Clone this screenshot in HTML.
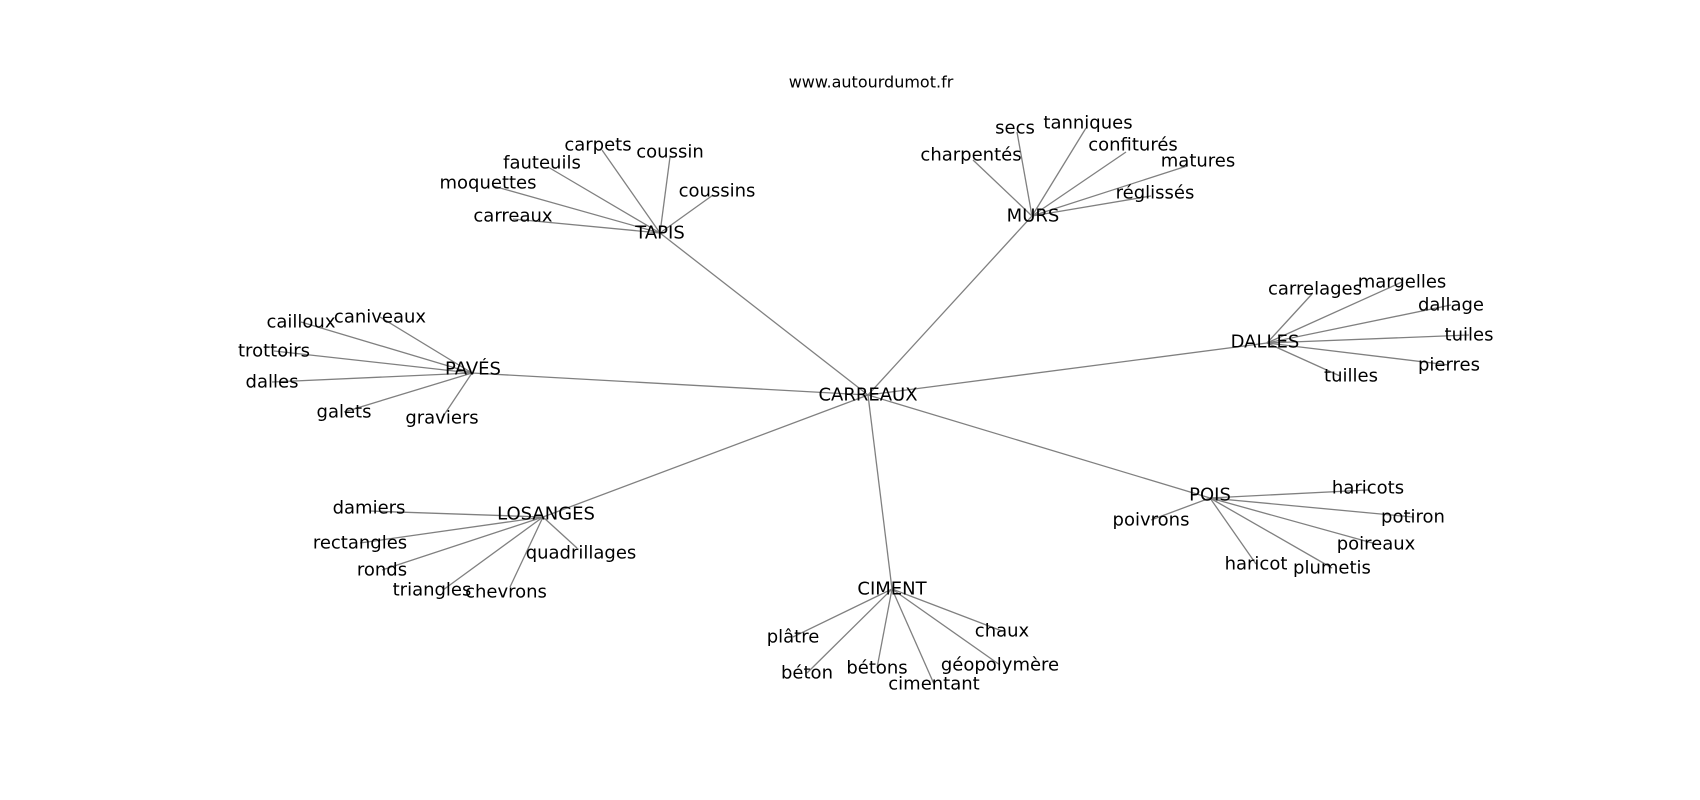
<!DOCTYPE html>
<html><head><meta charset="utf-8"><style>
html,body{margin:0;padding:0;background:#fff;}
svg{display:block;}
text{font-family:"DejaVu Sans","Liberation Sans",sans-serif;font-size:18px;fill:#000;text-anchor:middle;dominant-baseline:central;}
line{stroke:#808080;stroke-width:1.3;}
</style></head><body>
<svg width="1700" height="800" viewBox="0 0 1700 800">
<g>
<line x1="868" y1="395" x2="660" y2="233"/>
<line x1="868" y1="395" x2="1032" y2="216"/>
<line x1="868" y1="395" x2="1267" y2="343"/>
<line x1="868" y1="395" x2="472" y2="373"/>
<line x1="868" y1="395" x2="543" y2="517"/>
<line x1="868" y1="395" x2="892" y2="589"/>
<line x1="868" y1="395" x2="1210" y2="498"/>
<!-- TAPIS -->
<line x1="660" y1="233" x2="602" y2="150"/>
<line x1="660" y1="233" x2="670" y2="157"/>
<line x1="660" y1="233" x2="548" y2="167"/>
<line x1="660" y1="233" x2="493" y2="186"/>
<line x1="660" y1="233" x2="713" y2="195"/>
<line x1="660" y1="233" x2="513" y2="219"/>
<!-- MURS -->
<line x1="1032" y1="216" x2="1017" y2="132"/>
<line x1="1032" y1="216" x2="1086" y2="128"/>
<line x1="1032" y1="216" x2="973" y2="160"/>
<line x1="1032" y1="216" x2="1126" y2="152"/>
<line x1="1032" y1="216" x2="1187" y2="166"/>
<line x1="1032" y1="216" x2="1151" y2="196"/>
<!-- DALLES -->
<line x1="1267" y1="343" x2="1312" y2="294"/>
<line x1="1267" y1="343" x2="1402" y2="282"/>
<line x1="1267" y1="343" x2="1451" y2="305"/>
<line x1="1267" y1="343" x2="1469" y2="335"/>
<line x1="1267" y1="343" x2="1449" y2="365"/>
<line x1="1267" y1="343" x2="1340" y2="376"/>
<!-- PAVES -->
<line x1="472" y1="373" x2="301" y2="322"/>
<line x1="472" y1="373" x2="380" y2="317"/>
<line x1="472" y1="373" x2="274" y2="351"/>
<line x1="472" y1="373" x2="272" y2="382"/>
<line x1="472" y1="373" x2="344" y2="412"/>
<line x1="472" y1="373" x2="442" y2="418"/>
<!-- LOSANGES -->
<line x1="543" y1="517" x2="369" y2="511"/>
<line x1="543" y1="517" x2="360" y2="543"/>
<line x1="543" y1="517" x2="382" y2="570"/>
<line x1="543" y1="517" x2="443" y2="590"/>
<line x1="543" y1="517" x2="510" y2="587"/>
<line x1="543" y1="517" x2="577" y2="548"/>
<!-- CIMENT -->
<line x1="892" y1="589" x2="793" y2="637"/>
<line x1="892" y1="589" x2="807" y2="673"/>
<line x1="892" y1="589" x2="877" y2="668"/>
<line x1="892" y1="589" x2="934" y2="684"/>
<line x1="892" y1="589" x2="1000" y2="665"/>
<line x1="892" y1="589" x2="1002" y2="631"/>
<!-- POIS -->
<line x1="1210" y1="498" x2="1368" y2="490"/>
<line x1="1210" y1="498" x2="1413" y2="517"/>
<line x1="1210" y1="498" x2="1376" y2="544"/>
<line x1="1210" y1="498" x2="1332" y2="568"/>
<line x1="1210" y1="498" x2="1256" y2="564"/>
<line x1="1210" y1="498" x2="1151" y2="520"/>
</g>
<g>
<text x="871" y="82" style="font-size:16px">www.autourdumot.fr</text>
<text x="868" y="395">CARREAUX</text>
<text x="660" y="233">TAPIS</text>
<text x="598" y="145">carpets</text>
<text x="670" y="152">coussin</text>
<text x="542" y="163">fauteuils</text>
<text x="488" y="183">moquettes</text>
<text x="717" y="191">coussins</text>
<text x="513" y="216">carreaux</text>
<text x="1033" y="216">MURS</text>
<text x="1015" y="128">secs</text>
<text x="1088" y="123">tanniques</text>
<text x="971" y="155">charpentés</text>
<text x="1133" y="145">confiturés</text>
<text x="1198" y="161">matures</text>
<text x="1155" y="193">réglissés</text>
<text x="1265" y="342">DALLES</text>
<text x="1315" y="289">carrelages</text>
<text x="1402" y="282">margelles</text>
<text x="1451" y="305">dallage</text>
<text x="1469" y="335">tuiles</text>
<text x="1449" y="365">pierres</text>
<text x="1351" y="376">tuilles</text>
<text x="473" y="369">PAVÉS</text>
<text x="301" y="322">cailloux</text>
<text x="380" y="317">caniveaux</text>
<text x="274" y="351">trottoirs</text>
<text x="272" y="382">dalles</text>
<text x="344" y="412">galets</text>
<text x="442" y="418">graviers</text>
<text x="546" y="514">LOSANGES</text>
<text x="369" y="508">damiers</text>
<text x="360" y="543">rectangles</text>
<text x="382" y="570">ronds</text>
<text x="432" y="590">triangles</text>
<text x="506" y="592">chevrons</text>
<text x="581" y="553">quadrillages</text>
<text x="892" y="589">CIMENT</text>
<text x="793" y="637">plâtre</text>
<text x="807" y="673">béton</text>
<text x="877" y="668">bétons</text>
<text x="934" y="684">cimentant</text>
<text x="1000" y="665">géopolymère</text>
<text x="1002" y="631">chaux</text>
<text x="1210" y="495">POIS</text>
<text x="1368" y="488">haricots</text>
<text x="1413" y="517">potiron</text>
<text x="1376" y="544">poireaux</text>
<text x="1332" y="568">plumetis</text>
<text x="1256" y="564">haricot</text>
<text x="1151" y="520">poivrons</text>
</g>
</svg>
</body></html>
